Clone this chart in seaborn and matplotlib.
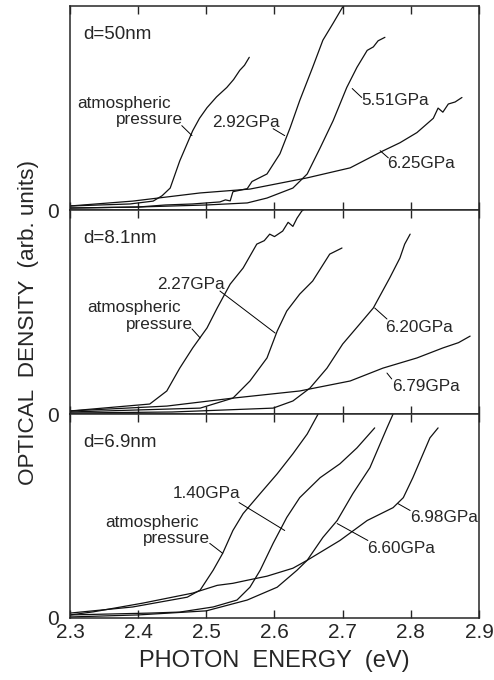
import numpy as np
import pandas as pd
import seaborn as sns
import matplotlib
matplotlib.use('Agg')
import matplotlib.pyplot as plt

# ---- data (eV, optical density in arb. units, 0..1 per panel)
# d = 50 nm
e50_atm = [2.300, 2.344, 2.388, 2.422, 2.435, 2.447, 2.461, 2.480, 2.490, 2.501, 2.515, 2.530, 2.540, 2.549, 2.556, 2.563]
od50_atm = [0.020, 0.025, 0.030, 0.044, 0.070, 0.108, 0.241, 0.389, 0.450, 0.502, 0.555, 0.601, 0.640, 0.685, 0.710, 0.749]
e50_292 = [2.300, 2.400, 2.440, 2.480, 2.500, 2.520, 2.528, 2.535, 2.539, 2.560, 2.567, 2.589, 2.608, 2.623, 2.637, 2.656, 2.671, 2.686, 2.699, 2.706]
od50_292 = [0.010, 0.015, 0.025, 0.030, 0.035, 0.040, 0.050, 0.045, 0.090, 0.105, 0.140, 0.177, 0.276, 0.404, 0.537, 0.700, 0.833, 0.916, 0.990, 1.020]
e50_551 = [2.300, 2.400, 2.500, 2.560, 2.589, 2.627, 2.648, 2.667, 2.686, 2.706, 2.721, 2.736, 2.745, 2.752, 2.762]
od50_551 = [0.010, 0.015, 0.025, 0.035, 0.059, 0.108, 0.177, 0.305, 0.438, 0.601, 0.700, 0.783, 0.800, 0.830, 0.847]
e50_625 = [2.300, 2.392, 2.491, 2.564, 2.648, 2.711, 2.759, 2.784, 2.809, 2.833, 2.840, 2.847, 2.855, 2.865, 2.875]
od50_625 = [0.020, 0.044, 0.084, 0.103, 0.158, 0.207, 0.290, 0.330, 0.380, 0.450, 0.500, 0.480, 0.520, 0.530, 0.552]

# d = 8.1 nm
e81_atm = [2.300, 2.417, 2.442, 2.461, 2.480, 2.501, 2.516, 2.535, 2.554, 2.574, 2.585, 2.593, 2.600, 2.612, 2.620, 2.627, 2.633, 2.640, 2.646]
od81_atm = [0.015, 0.049, 0.113, 0.225, 0.324, 0.422, 0.520, 0.637, 0.716, 0.833, 0.850, 0.882, 0.870, 0.897, 0.940, 0.920, 0.960, 0.995, 1.010]
e81_227 = [2.300, 2.400, 2.491, 2.539, 2.564, 2.589, 2.604, 2.618, 2.637, 2.656, 2.681, 2.699]
od81_227 = [0.010, 0.020, 0.029, 0.078, 0.162, 0.275, 0.407, 0.505, 0.588, 0.652, 0.784, 0.814]
e81_620 = [2.300, 2.450, 2.598, 2.627, 2.652, 2.677, 2.700, 2.725, 2.745, 2.769, 2.784, 2.791, 2.799]
od81_620 = [0.005, 0.010, 0.029, 0.064, 0.127, 0.225, 0.343, 0.441, 0.520, 0.667, 0.765, 0.833, 0.882]
e81_679 = [2.300, 2.442, 2.539, 2.637, 2.711, 2.759, 2.809, 2.847, 2.870, 2.887]
od81_679 = [0.015, 0.039, 0.078, 0.113, 0.162, 0.225, 0.275, 0.324, 0.350, 0.382]

# d = 6.9 nm
e69_atm = [2.300, 2.392, 2.472, 2.491, 2.510, 2.524, 2.539, 2.554, 2.579, 2.604, 2.627, 2.648, 2.664]
od69_atm = [0.024, 0.054, 0.102, 0.137, 0.234, 0.317, 0.429, 0.512, 0.610, 0.707, 0.805, 0.902, 1.000]
e69_140 = [2.300, 2.417, 2.461, 2.510, 2.545, 2.564, 2.579, 2.598, 2.618, 2.637, 2.667, 2.696, 2.721, 2.747]
od69_140 = [0.015, 0.024, 0.029, 0.054, 0.088, 0.151, 0.234, 0.366, 0.493, 0.590, 0.688, 0.756, 0.834, 0.932]
e69_660 = [2.300, 2.400, 2.500, 2.560, 2.604, 2.633, 2.648, 2.671, 2.692, 2.715, 2.740, 2.755, 2.765, 2.774]
od69_660 = [0.005, 0.015, 0.035, 0.088, 0.151, 0.234, 0.283, 0.395, 0.478, 0.610, 0.737, 0.854, 0.932, 1.000]
e69_698 = [2.300, 2.334, 2.407, 2.480, 2.516, 2.539, 2.560, 2.589, 2.627, 2.648, 2.696, 2.736, 2.774, 2.789, 2.803, 2.818, 2.828, 2.840]
od69_698 = [0.015, 0.030, 0.073, 0.122, 0.160, 0.170, 0.185, 0.205, 0.244, 0.283, 0.380, 0.478, 0.541, 0.590, 0.688, 0.805, 0.883, 0.932]

panels = [
    ('d=50nm', [(e50_atm, od50_atm), (e50_292, od50_292), (e50_551, od50_551), (e50_625, od50_625)]),
    ('d=8.1nm', [(e81_atm, od81_atm), (e81_227, od81_227), (e81_620, od81_620), (e81_679, od81_679)]),
    ('d=6.9nm', [(e69_atm, od69_atm), (e69_140, od69_140), (e69_660, od69_660), (e69_698, od69_698)]),
]

# labels: text, x, y, ha, leader line (x0, y0, x1, y1) or None
labels = [
    [('atmospheric', 2.310, 0.522, 'left', None),
     ('pressure', 2.466, 0.443, 'right', (2.464, 0.414, 2.479, 0.365)),
     ('2.92GPa', 2.508, 0.429, 'left', (2.598, 0.399, 2.615, 0.365)),
     ('5.51GPa', 2.728, 0.537, 'left', (2.728, 0.552, 2.714, 0.596)),
     ('6.25GPa', 2.765, 0.227, 'left', (2.767, 0.256, 2.755, 0.291))],
    [('2.27GPa', 2.428, 0.637, 'left', (2.520, 0.603, 2.601, 0.397)),
     ('atmospheric', 2.325, 0.520, 'left', None),
     ('pressure', 2.480, 0.441, 'right', (2.479, 0.417, 2.491, 0.373)),
     ('6.20GPa', 2.762, 0.426, 'left', (2.765, 0.466, 2.747, 0.520)),
     ('6.79GPa', 2.772, 0.137, 'left', (2.772, 0.172, 2.765, 0.201))],
    [('1.40GPa', 2.451, 0.610, 'left', (2.548, 0.566, 2.615, 0.429)),
     ('atmospheric', 2.351, 0.468, 'left', None),
     ('pressure', 2.505, 0.390, 'right', (2.505, 0.366, 2.524, 0.317)),
     ('6.98GPa', 2.799, 0.493, 'left', (2.799, 0.527, 2.781, 0.561)),
     ('6.60GPa', 2.736, 0.341, 'left', (2.737, 0.380, 2.692, 0.463))],
]

sns.set_style('ticks')
plt.rcParams['font.family'] = ['Liberation Sans', 'DejaVu Sans']

fig, axes = plt.subplots(3, 1, figsize=(4.94, 6.80), dpi=100, sharex=True)
fig.subplots_adjust(left=0.1417, right=0.9696, top=0.991, bottom=0.0912, hspace=0)

for ax, (title, curves), labs in zip(axes, panels, labels):
    for e, od in curves:
        sns.lineplot(x=e, y=od, color='#111111', lw=0.9, ax=ax, sort=False, estimator=None)
    ax.set_xlim(2.3, 2.9)
    ax.set_ylim(0, 1)
    ax.set_yticks([0])
    ax.set_yticklabels(['0'])
    ax.set_xticks(np.arange(2.3, 2.91, 0.1))
    ax.tick_params(axis='x', direction='in', top=True, length=6, width=1, labelsize=15)
    ax.tick_params(axis='y', length=0, pad=8, labelsize=15)
    for s in ax.spines.values():
        s.set_visible(True)
        s.set_linewidth(1.1)
    ax.text(2.319, 0.86, title, fontsize=13.5, ha='left', va='center')
    for txt, x, y, ha, ld in labs:
        ax.text(x, y, txt, fontsize=12.3, ha=ha, va='center')
        if ld is not None:
            ax.plot([ld[0], ld[2]], [ld[1], ld[3]], color='black', lw=0.7)

axes[-1].set_xticklabels(['2.3', '2.4', '2.5', '2.6', '2.7', '2.8', '2.9'])
axes[-1].set_xlabel('PHOTON  ENERGY  (eV)', fontsize=17, labelpad=6)
for ax in axes[:-1]:
    ax.tick_params(axis='x', labelbottom=False)
fig.text(0.058, 0.526, 'OPTICAL  DENSITY  (arb. units)', rotation=90, fontsize=16.2,
         ha='center', va='center')

fig.savefig('out.png', dpi=100)
